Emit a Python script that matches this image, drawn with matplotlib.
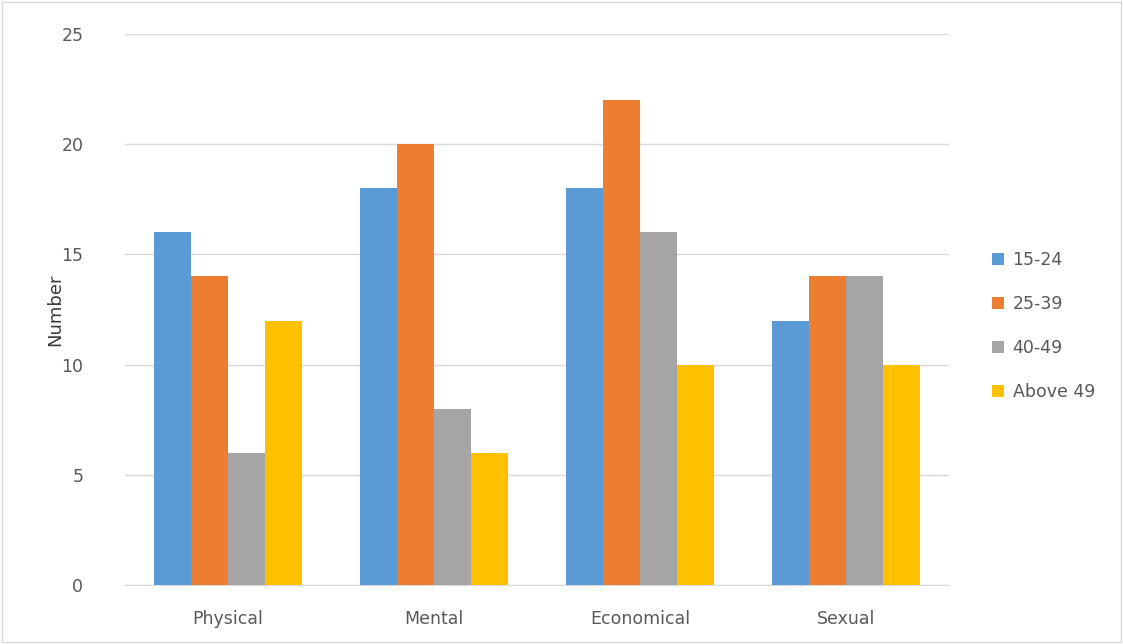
import numpy as np
import matplotlib.pyplot as plt
from matplotlib.patches import Rectangle

# Counts by type of violence and age group
categories = ['Physical', 'Mental', 'Economical', 'Sexual']
age_groups = ['15-24', '25-39', '40-49', 'Above 49']
age_15_24 = [16, 18, 18, 12]
age_25_39 = [14, 20, 22, 14]
age_40_49 = [6, 8, 16, 14]
age_above_49 = [12, 6, 10, 10]

colors = ['#5B9BD5', '#ED7D31', '#A5A5A5', '#FFC000']
series = [age_15_24, age_25_39, age_40_49, age_above_49]

fig = plt.figure(figsize=(11.23, 6.44), dpi=100)
ax = fig.add_axes([0.1113, 0.0916, 0.7337, 0.8556])

x = np.arange(len(categories))
width = 0.18
for i, (vals, label, c) in enumerate(zip(series, age_groups, colors)):
    ax.bar(x + (i - 1.5) * width, vals, width, color=c, label=label, zorder=3)

ax.set_xlim(-0.5, len(categories) - 0.5)
ax.set_ylim(0, 25)
ax.set_yticks(range(0, 26, 5))
ax.set_xticks(x)
ax.set_xticklabels(categories)
ax.yaxis.grid(True, color='#D9D9D9', linewidth=1, zorder=0)
ax.set_axisbelow(True)

for side in ['top', 'right', 'left']:
    ax.spines[side].set_visible(False)
ax.spines['bottom'].set_color('#D9D9D9')
ax.tick_params(axis='both', length=0, labelsize=12.5, colors='#595959')
ax.tick_params(axis='x', pad=18)
ax.tick_params(axis='y', pad=30)
ax.set_ylabel('Number', fontsize=13, color='#3A3A3A', labelpad=-2)

leg = ax.legend(loc='center left', bbox_to_anchor=(1.033, 0.47), frameon=False,
                fontsize=12.5, labelspacing=1.5, handlelength=0.7, handleheight=0.7,
                handletextpad=0.5)
for t in leg.get_texts():
    t.set_color('#595959')

# thin frame round the whole figure
fig.patches.append(Rectangle((0.002, 0.003), 0.996, 0.994, transform=fig.transFigure,
                             fill=False, edgecolor='#D9D9D9', linewidth=1))

fig.savefig('out.png', dpi=100)
